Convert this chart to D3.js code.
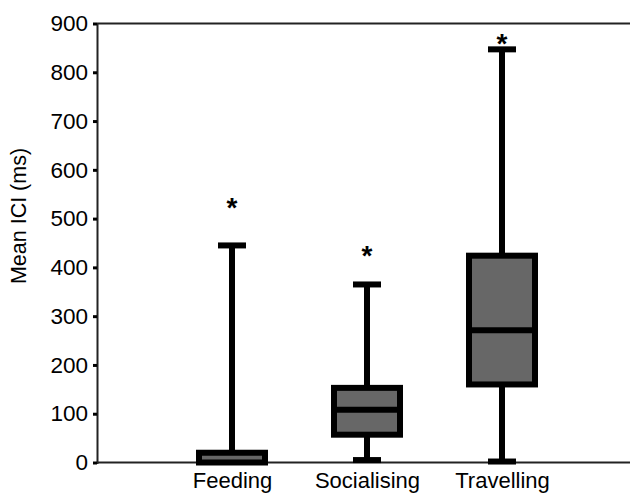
<!DOCTYPE html>
<html>
<head>
<meta charset="utf-8">
<script src="https://cdn.jsdelivr.net/npm/d3@7"></script>
<style>
  body { margin: 0; background: #fff; }
  text { font-family: "Liberation Sans", Arial, sans-serif; fill: #000; }
</style>
</head>
<body>
<div id="chart"></div>
<script>
// box summaries (ms)
const categories = ["Feeding", "Socialising", "Travelling"];
const whiskerLow = [null, 5, 2];
const q1 = [0, 57, 160];
const medians = [0, 108, 271];
const q3 = [20, 153, 424];
const whiskerHigh = [445, 365, 847];
const extremes = [533, 435, 870];
const yTicks = [0, 100, 200, 300, 400, 500, 600, 700, 800, 900];

const margin = { top: 23.5, right: 0, bottom: 31.5, left: 97 };
const width = 630 - margin.left - margin.right,
    height = 494 - margin.top - margin.bottom;

const svg = d3.select("#chart")
  .append("svg")
  .attr("width", 630)
  .attr("height", 494)
  .append("g")
  .attr("transform", "translate(" + margin.left + "," + margin.top + ")");

const x = d3.scalePoint().domain(categories).range([0, 540]).padding(1);
const y = d3.scaleLinear().domain([0, 900]).range([height, 0]);

const boxW = 66, capW = 28, sw = 6;

const rows = categories.map((c, i) => ({
  cat: c, lo: whiskerLow[i], q1: q1[i], med: medians[i], q3: q3[i], hi: whiskerHigh[i], ext: extremes[i]
}));

// top frame line
svg.append("line")
  .attr("x1", 0).attr("x2", width)
  .attr("y1", 0).attr("y2", 0)
  .attr("stroke", "#222").attr("stroke-width", 2);

// y axis
const yAxis = d3.axisLeft(y).tickValues(yTicks).tickSize(4).tickPadding(5);
const gy = svg.append("g").attr("class", "axis y-axis").call(yAxis);
gy.select(".domain").attr("stroke", "#222").attr("stroke-width", 2);
gy.selectAll(".tick line").attr("stroke", "#000").attr("stroke-width", 3);
gy.selectAll(".tick text").style("font-size", "22.5px");

// x axis line + labels
const gx = svg.append("g")
  .attr("transform", "translate(0," + height + ")")
  .call(d3.axisBottom(x).tickSize(0).tickPadding(10));
gx.select(".domain").attr("stroke", "#222").attr("stroke-width", 2).attr("d", "M0,0H" + width);
gx.selectAll(".tick text").style("font-size", "22px");

svg.append("text")
  .attr("transform", "rotate(-90)")
  .attr("x", -(y(900) + y(0)) / 2 + 27)
  .attr("y", -71)
  .attr("text-anchor", "middle")
  .style("font-size", "21.5px")
  .text("Mean ICI (ms)");

const g = svg.selectAll(".box").data(rows).enter().append("g").attr("class", "box");

// whisker stems
g.append("line")
  .attr("x1", d => x(d.cat)).attr("x2", d => x(d.cat))
  .attr("y1", d => y(d.lo == null ? d.q1 : d.lo))
  .attr("y2", d => y(d.hi))
  .attr("stroke", "#000").attr("stroke-width", sw);

// caps
g.append("line")
  .attr("x1", d => x(d.cat) - capW / 2).attr("x2", d => x(d.cat) + capW / 2)
  .attr("y1", d => y(d.hi)).attr("y2", d => y(d.hi))
  .attr("stroke", "#000").attr("stroke-width", sw);

g.filter(d => d.lo != null).append("line")
  .attr("x1", d => x(d.cat) - capW / 2).attr("x2", d => x(d.cat) + capW / 2)
  .attr("y1", d => y(d.lo)).attr("y2", d => y(d.lo))
  .attr("stroke", "#000").attr("stroke-width", sw);

// boxes
g.append("rect")
  .attr("x", d => x(d.cat) - boxW / 2)
  .attr("width", boxW)
  .attr("y", d => y(d.q3))
  .attr("height", d => y(d.q1) - y(d.q3))
  .attr("fill", "#676767")
  .attr("stroke", "#000")
  .attr("stroke-width", sw);

// medians
g.filter(d => d.med > d.q1).append("line")
  .attr("x1", d => x(d.cat) - boxW / 2).attr("x2", d => x(d.cat) + boxW / 2)
  .attr("y1", d => y(d.med)).attr("y2", d => y(d.med))
  .attr("stroke", "#000").attr("stroke-width", sw);

// extreme value asterisks
g.append("text")
  .attr("x", d => x(d.cat))
  .attr("y", d => y(d.ext))
  .attr("dy", "0.52em")
  .attr("text-anchor", "middle")
  .style("font-size", "28px")
  .style("font-weight", "bold")
  .text("*");
</script>
</body>
</html>
